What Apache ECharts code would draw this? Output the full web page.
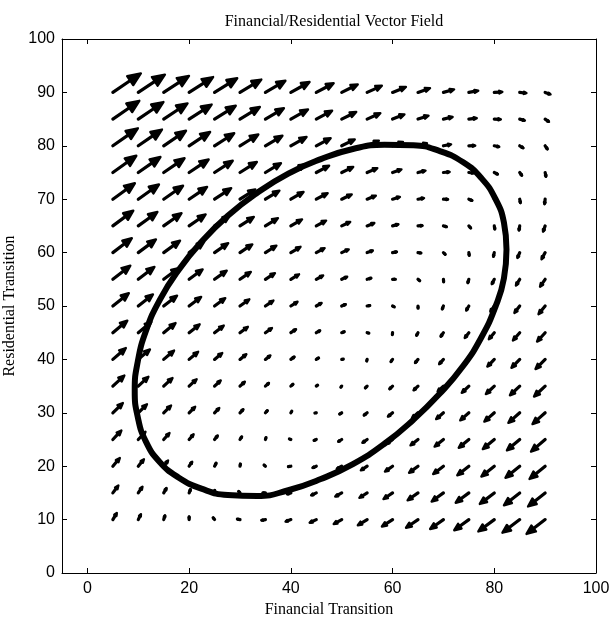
<!DOCTYPE html>
<html>
<head>
<meta charset="utf-8">
<script src="https://cdn.jsdelivr.net/npm/echarts@6/dist/echarts.min.js"></script>
<style>
  html, body { margin: 0; padding: 0; background: #fff; }
  #chart { width: 613px; height: 618px; }
</style>
</head>
<body>
<div id="chart"></div>
<script>
// grid positions of the arrows
const gridX = [5, 10, 15, 20, 25, 30, 35, 40, 45, 50, 55, 60, 65, 70, 75, 80, 85, 90];
const gridY = [10, 15, 20, 25, 30, 35, 40, 45, 50, 55, 60, 65, 70, 75, 80, 85, 90];

// horizontal component, one row per gridY value (bottom to top)
const uRows = [
  [0.78,0.52,0.26,0.00,-0.26,-0.52,-0.78,-1.04,-1.31,-1.57,-1.83,-2.09,-2.35,-2.61,-2.87,-3.13,-3.39,-3.65],
  [1.08,0.82,0.56,0.29,0.03,-0.23,-0.49,-0.75,-1.01,-1.27,-1.53,-1.79,-2.05,-2.32,-2.58,-2.84,-3.10,-3.36],
  [1.37,1.11,0.85,0.59,0.33,0.07,-0.19,-0.46,-0.72,-0.98,-1.24,-1.50,-1.76,-2.02,-2.28,-2.54,-2.80,-3.07],
  [1.67,1.41,1.14,0.88,0.62,0.36,0.10,-0.16,-0.42,-0.68,-0.94,-1.20,-1.47,-1.73,-1.99,-2.25,-2.51,-2.77],
  [1.96,1.70,1.44,1.18,0.92,0.66,0.40,0.13,-0.13,-0.39,-0.65,-0.91,-1.17,-1.43,-1.69,-1.95,-2.22,-2.48],
  [2.26,1.99,1.73,1.47,1.21,0.95,0.69,0.43,0.17,-0.09,-0.35,-0.62,-0.88,-1.14,-1.40,-1.66,-1.92,-2.18],
  [2.55,2.29,2.03,1.77,1.51,1.25,0.98,0.72,0.46,0.20,-0.06,-0.32,-0.58,-0.84,-1.10,-1.37,-1.63,-1.89],
  [2.84,2.58,2.32,2.06,1.80,1.54,1.28,1.02,0.76,0.50,0.23,-0.03,-0.29,-0.55,-0.81,-1.07,-1.33,-1.59],
  [3.14,2.88,2.62,2.36,2.10,1.83,1.57,1.31,1.05,0.79,0.53,0.27,0.01,-0.25,-0.52,-0.78,-1.04,-1.30],
  [3.43,3.17,2.91,2.65,2.39,2.13,1.87,1.61,1.35,1.08,0.82,0.56,0.30,0.04,-0.22,-0.48,-0.74,-1.00],
  [3.73,3.47,3.21,2.95,2.68,2.42,2.16,1.90,1.64,1.38,1.12,0.86,0.60,0.34,0.07,-0.19,-0.45,-0.71],
  [4.02,3.76,3.50,3.24,2.98,2.72,2.46,2.20,1.93,1.67,1.41,1.15,0.89,0.63,0.37,0.11,-0.15,-0.41],
  [4.32,4.06,3.80,3.53,3.27,3.01,2.75,2.49,2.23,1.97,1.71,1.45,1.19,0.92,0.66,0.40,0.14,-0.12],
  [4.61,4.35,4.09,3.83,3.57,3.31,3.05,2.78,2.52,2.26,2.00,1.74,1.48,1.22,0.96,0.70,0.44,0.17],
  [4.91,4.65,4.38,4.12,3.86,3.60,3.34,3.08,2.82,2.56,2.30,2.04,1.77,1.51,1.25,0.99,0.73,0.47],
  [5.20,4.94,4.68,4.42,4.16,3.90,3.63,3.37,3.11,2.85,2.59,2.33,2.07,1.81,1.55,1.29,1.02,0.76],
  [5.50,5.23,4.97,4.71,4.45,4.19,3.93,3.67,3.41,3.15,2.89,2.62,2.36,2.10,1.84,1.58,1.32,1.06]
];

// vertical component, same layout
const vRows = [
  [1.25,1.02,0.79,0.56,0.32,0.09,-0.14,-0.37,-0.60,-0.83,-1.06,-1.29,-1.53,-1.76,-1.99,-2.22,-2.45,-2.68],
  [1.39,1.16,0.93,0.70,0.47,0.24,0.01,-0.23,-0.46,-0.69,-0.92,-1.15,-1.38,-1.61,-1.84,-2.07,-2.31,-2.54],
  [1.54,1.31,1.08,0.84,0.61,0.38,0.15,-0.08,-0.31,-0.54,-0.77,-1.01,-1.24,-1.47,-1.70,-1.93,-2.16,-2.39],
  [1.68,1.45,1.22,0.99,0.76,0.53,0.30,0.06,-0.17,-0.40,-0.63,-0.86,-1.09,-1.32,-1.55,-1.79,-2.02,-2.25],
  [1.83,1.60,1.36,1.13,0.90,0.67,0.44,0.21,-0.02,-0.25,-0.49,-0.72,-0.95,-1.18,-1.41,-1.64,-1.87,-2.10],
  [1.97,1.74,1.51,1.28,1.05,0.82,0.58,0.35,0.12,-0.11,-0.34,-0.57,-0.80,-1.03,-1.27,-1.50,-1.73,-1.96],
  [2.12,1.88,1.65,1.42,1.19,0.96,0.73,0.50,0.27,0.04,-0.20,-0.43,-0.66,-0.89,-1.12,-1.35,-1.58,-1.81],
  [2.26,2.03,1.80,1.57,1.34,1.10,0.87,0.64,0.41,0.18,-0.05,-0.28,-0.51,-0.75,-0.98,-1.21,-1.44,-1.67],
  [2.40,2.17,1.94,1.71,1.48,1.25,1.02,0.79,0.56,0.32,0.09,-0.14,-0.37,-0.60,-0.83,-1.06,-1.29,-1.53],
  [2.55,2.32,2.09,1.86,1.62,1.39,1.16,0.93,0.70,0.47,0.24,0.01,-0.23,-0.46,-0.69,-0.92,-1.15,-1.38],
  [2.69,2.46,2.23,2.00,1.77,1.54,1.31,1.08,0.84,0.61,0.38,0.15,-0.08,-0.31,-0.54,-0.77,-1.01,-1.24],
  [2.84,2.61,2.38,2.14,1.91,1.68,1.45,1.22,0.99,0.76,0.53,0.30,0.06,-0.17,-0.40,-0.63,-0.86,-1.09],
  [2.98,2.75,2.52,2.29,2.06,1.83,1.60,1.36,1.13,0.90,0.67,0.44,0.21,-0.02,-0.25,-0.49,-0.72,-0.95],
  [3.13,2.90,2.66,2.43,2.20,1.97,1.74,1.51,1.28,1.05,0.82,0.58,0.35,0.12,-0.11,-0.34,-0.57,-0.80],
  [3.27,3.04,2.81,2.58,2.35,2.12,1.88,1.65,1.42,1.19,0.96,0.73,0.50,0.27,0.04,-0.20,-0.43,-0.66],
  [3.42,3.19,2.95,2.72,2.49,2.26,2.03,1.80,1.57,1.34,1.10,0.87,0.64,0.41,0.18,-0.05,-0.28,-0.51],
  [3.56,3.33,3.10,2.87,2.64,2.40,2.17,1.94,1.71,1.48,1.25,1.02,0.79,0.56,0.32,0.09,-0.14,-0.37]
];

// closed curve
const ellipseX = [82.4,81.9,80.2,77.5,73.9,69.3,64.1,58.4,52.2,45.9,39.5,33.4,27.6,22.4,17.9,14.2,11.5,9.9,9.3,9.9,11.5,14.2,17.9,22.4,27.6,33.4,39.5,45.9,52.2,58.4,64.1,69.3,73.9,77.5,80.2,81.9,82.4];
const ellipseY = [60.6,65.6,70.1,73.9,76.9,79.0,80.1,80.2,79.4,77.5,74.8,71.2,66.9,62.0,56.7,51.1,45.3,39.6,34.2,29.2,24.6,20.8,17.9,15.8,14.6,14.4,15.5,17.6,20.4,24.2,28.7,33.6,38.8,44.2,49.8,55.2,60.6];

const xTicks = [0, 20, 40, 60, 80, 100];

const arrowData = [];
gridY.forEach((y, j) => {
  gridX.forEach((x, i) => {
    arrowData.push([x, y, uRows[j][i], vRows[j][i]]);
  });
});
const curveData = ellipseX.map((x, i) => [x, ellipseY[i]]);

function renderArrow(params, api) {
  const x = api.value(0), y = api.value(1);
  const p0 = api.coord([x, y]);
  const p1 = api.coord([x + api.value(2), y + api.value(3)]);
  const dx = p1[0] - p0[0], dy = p1[1] - p0[1];
  const len = Math.sqrt(dx * dx + dy * dy) || 0.001;
  const ux = dx / len, uy = dy / len;
  const h = len * 0.38, w = len * 0.16;
  const bx = p1[0] - ux * h, by = p1[1] - uy * h;
  return {
    type: 'group',
    children: [
      {
        type: 'line',
        shape: { x1: p0[0], y1: p0[1], x2: bx + ux, y2: by + uy },
        style: { stroke: '#000', lineWidth: 3.2, lineCap: 'round' }
      },
      {
        type: 'polygon',
        shape: { points: [p1, [bx - uy * w, by + ux * w], [bx + uy * w, by - ux * w]] },
        style: { fill: '#000', stroke: '#000', lineWidth: 2.4, lineJoin: 'round' }
      }
    ]
  };
}

const chart = echarts.init(document.getElementById('chart'));
const labelFont = { color: '#000', fontFamily: 'Liberation Sans', fontSize: 16 };
const nameFont = { color: '#000', fontFamily: 'Liberation Serif', fontSize: 16 };
const boxLine = { show: true, onZero: false, lineStyle: { color: '#000', width: 1 } };
const tickStyle = { show: true, inside: true, length: 5, lineStyle: { color: '#000' } };

chart.setOption({
  animation: false,
  title: {
    text: 'Financial/Residential Vector Field',
    left: 329,
    top: 9,
    textAlign: 'center',
    textStyle: { color: '#000', fontFamily: 'Liberation Serif', fontSize: 16, fontWeight: 'normal' }
  },
  grid: { left: 62, right: 17, top: 39, bottom: 45, outerBoundsMode: 'none' },
  xAxis: [
    {
      type: 'value', min: -5, max: 100,
      name: 'Financial Transition', nameLocation: 'middle', nameGap: 27,
      nameTextStyle: nameFont,
      axisLine: boxLine,
      axisTick: Object.assign({ customValues: xTicks }, tickStyle),
      axisLabel: Object.assign({ margin: 8, customValues: xTicks }, labelFont),
      splitLine: { show: false }
    },
    {
      type: 'value', min: -5, max: 100, position: 'top',
      axisLine: boxLine,
      axisTick: Object.assign({ customValues: xTicks }, tickStyle),
      axisLabel: { show: false },
      splitLine: { show: false }
    }
  ],
  yAxis: [
    {
      type: 'value', min: 0, max: 100, interval: 10,
      name: 'Residential Transition', nameLocation: 'middle', nameGap: 42,
      nameTextStyle: nameFont,
      axisLine: boxLine,
      axisTick: tickStyle,
      axisLabel: Object.assign({ margin: 7 }, labelFont),
      splitLine: { show: false }
    },
    {
      type: 'value', min: 0, max: 100, interval: 10, position: 'right',
      axisLine: boxLine,
      axisTick: tickStyle,
      axisLabel: { show: false },
      splitLine: { show: false }
    }
  ],
  series: [
    {
      type: 'custom',
      renderItem: renderArrow,
      data: arrowData,
      encode: { x: 0, y: 1 },
      silent: true
    },
    {
      type: 'line',
      data: curveData,
      smooth: true,
      symbol: 'none',
      lineStyle: { color: '#000', width: 6 },
      silent: true
    }
  ]
});
</script>
</body>
</html>
